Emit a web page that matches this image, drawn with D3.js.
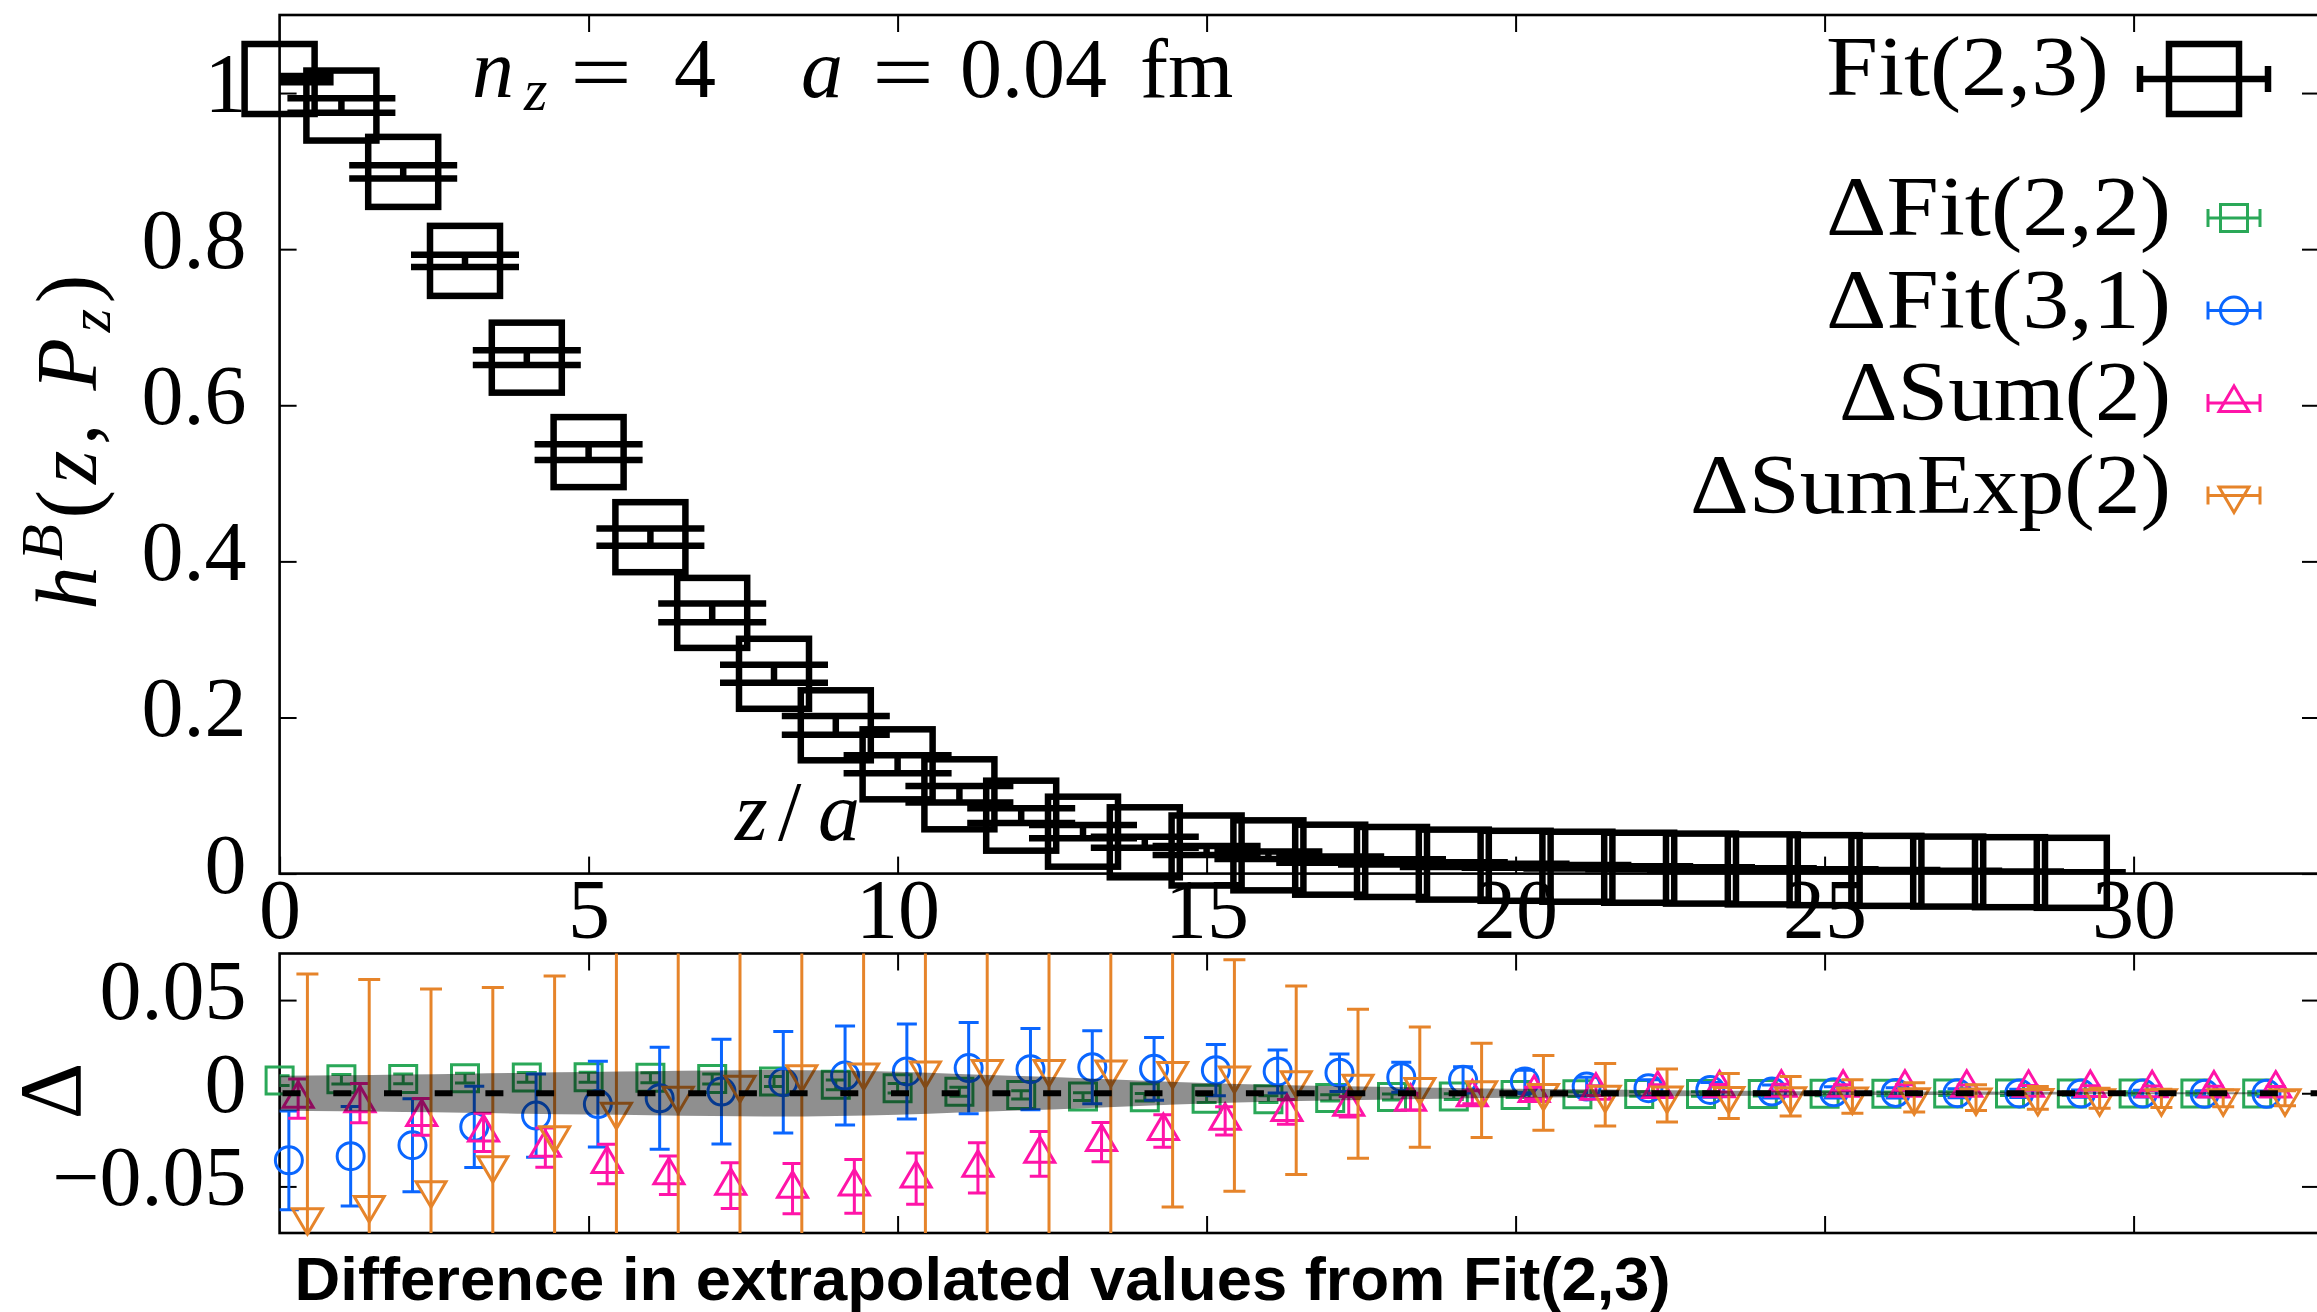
<!DOCTYPE html>
<html>
<head>
<meta charset="utf-8">
<script src="https://cdn.jsdelivr.net/npm/d3@7"></script>
<style>
  html, body { margin: 0; padding: 0; background: #fff; }
  svg { display: block; }
</style>
</head>
<body>
<svg id="chart" width="2317" height="1312"></svg>
<script>
// ---- data -------------------------------------------------------------
// separation z/a
const zSep = [0, 1, 2, 3, 4, 5, 6, 7, 8, 9, 10, 11, 12, 13, 14, 15, 16,
              17, 18, 19, 20, 21, 22, 23, 24, 25, 26, 27, 28, 29, 30, 31, 32];

// h^B(z, P_z) from Fit(2,3), z = 0..29
const hB = [1.018, 0.984, 0.899, 0.785, 0.661, 0.540, 0.431, 0.334, 0.256, 0.190,
            0.140, 0.1016, 0.0742, 0.0537, 0.0401, 0.0296, 0.0234, 0.0178, 0.0149, 0.0115,
            0.0100, 0.0088, 0.0075, 0.0064, 0.0054, 0.0044, 0.0035, 0.0026, 0.0018, 0.0010];
const hBErr = [0.004, 0.0092, 0.0086, 0.0077, 0.0095, 0.0100, 0.0110, 0.0120, 0.0115, 0.0120,
               0.0115, 0.0105, 0.0095, 0.0085, 0.0070, 0.0058, 0.0048, 0.0040, 0.0034, 0.0029,
               0.0025, 0.0022, 0.0019, 0.0016, 0.0014, 0.0012, 0.0011, 0.0010, 0.0009, 0.0008];

// differences relative to Fit(2,3), z = 0..32
const dFit22 = [0.0068, 0.0075, 0.0077, 0.0081, 0.0085, 0.0086, 0.0083, 0.0076, 0.0063, 0.0045,
                0.0027, 0.0008, -0.0009, -0.0018, -0.0022, -0.0030, -0.0032, -0.0025, -0.0020, -0.0018,
                -0.0009, -0.0005, -0.0004, -0.0004, -0.0004, -0.0003, -0.0003, -0.0002, -0.0002, -0.0002,
                -0.0001, -0.0001, -0.0001];
const dFit22Err = [0.0026, 0.0026, 0.0026, 0.0026, 0.0026, 0.0027, 0.0027, 0.0027, 0.0027, 0.0026,
                   0.0025, 0.0024, 0.0022, 0.0021, 0.0020, 0.0019, 0.0018, 0.0017, 0.0016, 0.0015,
                   0.0014, 0.0013, 0.0012, 0.0012, 0.0011, 0.0011, 0.0010, 0.0010, 0.0010, 0.0009,
                   0.0009, 0.0009, 0.0009];

const dFit31 = [-0.0360, -0.0338, -0.0279, -0.0180, -0.0120, -0.0058, -0.0027, 0.0009, 0.0059, 0.0095,
                0.0117, 0.0135, 0.0129, 0.0140, 0.0131, 0.0124, 0.0117, 0.0110, 0.0086, 0.0072,
                0.0063, 0.0036, 0.0027, 0.0018, 0.0009, 0.0005, 0.0002, 0.0000, -0.0001, -0.0002,
                -0.0002, -0.0003, -0.0003];
const dFit31Err = [0.0265, 0.0267, 0.0250, 0.0218, 0.0223, 0.0230, 0.0274, 0.0281, 0.0272, 0.0266,
                   0.0255, 0.0245, 0.0218, 0.0196, 0.0168, 0.0138, 0.0115, 0.0100, 0.0080, 0.0070,
                   0.0060, 0.0050, 0.0045, 0.0040, 0.0035, 0.0030, 0.0027, 0.0024, 0.0022, 0.0020,
                   0.0018, 0.0016, 0.0015];

const dSum2 = [-0.0029, -0.0053, -0.0127, -0.0210, -0.0292, -0.0380, -0.0440, -0.0496, -0.0512, -0.0500,
               -0.0458, -0.0400, -0.0325, -0.0262, -0.0203, -0.0148, -0.0100, -0.0072, -0.0045, -0.0022,
               0.0002, 0.0014, 0.0023, 0.0027, 0.0030, 0.0030, 0.0030, 0.0030, 0.0029, 0.0028,
               0.0027, 0.0026, 0.0025];
const dSum2Err = [0.0105, 0.0105, 0.0099, 0.0103, 0.0105, 0.0106, 0.0103, 0.0123, 0.0135, 0.0144,
                  0.0138, 0.0135, 0.0120, 0.0105, 0.0087, 0.0076, 0.0067, 0.0055, 0.0045, 0.0035,
                  0.0030, 0.0026, 0.0023, 0.0020, 0.0018, 0.0016, 0.0015, 0.0014, 0.0013, 0.0012,
                  0.0012, 0.0011, 0.0011];

const dSumExp2 = [-0.0665, -0.0600, -0.0520, -0.0387, -0.0225, -0.0099, -0.0014, 0.0045, 0.0102, 0.0112,
                  0.0122, 0.0130, 0.0130, 0.0127, 0.0120, 0.0095, 0.0070, 0.0051, 0.0033, 0.0016,
                  0.0002, -0.0008, -0.0012, -0.0015, -0.0016, -0.0018, -0.0022, -0.0023, -0.0025, -0.0027,
                  -0.0027, -0.0027, -0.0027];
const dSumExp2Err = [0.1305, 0.1210, 0.1080, 0.0955, 0.0854, 0.0900, 0.0950, 0.1000, 0.1000, 0.1000,
                     0.1000, 0.1000, 0.0980, 0.0950, 0.0730, 0.0621, 0.0506, 0.0400, 0.0323, 0.0253,
                     0.0200, 0.0168, 0.0142, 0.0121, 0.0106, 0.0090, 0.0079, 0.0069, 0.0061, 0.0054,
                     0.0049, 0.0045, 0.0040];

// half-width of the Fit(2,3) uncertainty band around zero
const fitBand = [0.0094, 0.0097, 0.0101, 0.0105, 0.0110, 0.0114, 0.0118, 0.0122, 0.0125, 0.0122,
                 0.0115, 0.0103, 0.0092, 0.0080, 0.0067, 0.0055, 0.0046, 0.0039, 0.0033, 0.0028,
                 0.0024, 0.0021, 0.0018, 0.0015, 0.0013, 0.0011, 0.0010, 0.0009, 0.0008, 0.0007,
                 0.0006, 0.0005, 0.0005];

// horizontal offsets used to separate the four difference series
const seriesShift = [0, 0.15, 0.30, 0.45];

// ticks
const xTicks = [0, 5, 10, 15, 20, 25, 30];
const xTicksInner = [5, 10, 15, 20, 25, 30];
const hTicks = [0, 0.2, 0.4, 0.6, 0.8, 1.0];
const hTickLabels = ["0", "0.2", "0.4", "0.6", "0.8", "1"];
const dTicks = [-0.05, 0, 0.05];
const dTickLabels = ["\u22120.05", "0", "0.05"];

// ---- layout -------------------------------------------------------------
const svg = d3.select("#chart");
const serif = "'Liberation Serif', 'Times New Roman', serif";
const sans = "'Liberation Sans', Arial, sans-serif";

const xL = 279.6, xR = 2319;
const topY0 = 15, topY1 = 873.6;
const botY0 = 953.5, botY1 = 1233;

const x = d3.scaleLinear().domain([0, 33]).range([xL, xR]);
const yTop = d3.scaleLinear().domain([0, 1.1]).range([topY1, topY0]);
const yBot = d3.scaleLinear().domain([-0.075, 0.075]).range([botY1, botY0]);

svg.append("rect").attr("width", 2317).attr("height", 1312).attr("fill", "#fff");

const defs = svg.append("defs");
defs.append("clipPath").attr("id", "clipTop").append("rect")
  .attr("x", xL).attr("y", topY0).attr("width", xR - xL).attr("height", topY1 - topY0);
defs.append("clipPath").attr("id", "clipBot").append("rect")
  .attr("x", xL).attr("y", botY0).attr("width", xR - xL).attr("height", botY1 - botY0);

function styleAxis(g) {
  g.select(".domain").remove();
  g.selectAll(".tick line").attr("stroke", "#000").attr("stroke-width", 2);
  g.selectAll(".tick text").attr("font-family", serif).attr("font-size", 84).attr("fill", "#000");
}

// ---- top panel axes ----
svg.append("g").attr("transform", `translate(0,${topY1})`)
  .call(d3.axisBottom(x).tickValues(xTicks).tickSize(-17).tickFormat(d3.format("d")))
  .call(styleAxis)
  .call(g => g.selectAll(".tick text").attr("dy", 0).attr("y", 64.5));
svg.append("g").attr("transform", `translate(0,${topY0})`)
  .call(d3.axisTop(x).tickValues(xTicksInner).tickSize(-17).tickFormat(""))
  .call(styleAxis);
svg.append("g").attr("transform", `translate(${xL},0)`)
  .call(d3.axisLeft(yTop).tickValues(hTicks).tickSize(-17).tickPadding(33)
        .tickFormat((d, i) => hTickLabels[i]))
  .call(styleAxis)
  .call(g => g.selectAll(".tick text").attr("dy", 0).attr("y", 18.5));
svg.append("g").attr("transform", `translate(${xR},0)`)
  .call(d3.axisRight(yTop).tickValues(hTicks).tickSize(-17).tickFormat(""))
  .call(styleAxis);
svg.append("rect").attr("x", xL).attr("y", topY0).attr("width", xR - xL).attr("height", topY1 - topY0)
  .attr("fill", "none").attr("stroke", "#000").attr("stroke-width", 2.6);

// ---- bottom panel axes ----
svg.append("g").attr("transform", `translate(0,${botY1})`)
  .call(d3.axisBottom(x).tickValues(xTicksInner).tickSize(-17).tickFormat(""))
  .call(styleAxis);
svg.append("g").attr("transform", `translate(0,${botY0})`)
  .call(d3.axisTop(x).tickValues(xTicksInner).tickSize(-17).tickFormat(""))
  .call(styleAxis);
svg.append("g").attr("transform", `translate(${xL},0)`)
  .call(d3.axisLeft(yBot).tickValues(dTicks).tickSize(-17).tickPadding(33)
        .tickFormat((d, i) => dTickLabels[i]))
  .call(styleAxis)
  .call(g => g.selectAll(".tick text").attr("dy", 0).attr("y", 18.5));
svg.append("g").attr("transform", `translate(${xR},0)`)
  .call(d3.axisRight(yBot).tickValues(dTicks).tickSize(-17).tickFormat(""))
  .call(styleAxis);
svg.append("rect").attr("x", xL).attr("y", botY0).attr("width", xR - xL).attr("height", botY1 - botY0)
  .attr("fill", "none").attr("stroke", "#000").attr("stroke-width", 2.6);

// ---- top panel data: Fit(2,3) ----
const topPts = hB.map((v, i) => ({ z: zSep[i], v, e: hBErr[i] }));
const capTop = 54;
svg.append("g").attr("clip-path", "url(#clipTop)")
  .attr("stroke", "#000").attr("stroke-width", 6.5).attr("fill", "none")
  .selectAll("path").data(topPts).join("path")
  .attr("d", d => {
    const cx = x(d.z), ya = yTop(d.v - d.e), yb = yTop(d.v + d.e);
    return `M${cx},${ya}V${yb}M${cx - capTop},${ya}H${cx + capTop}M${cx - capTop},${yb}H${cx + capTop}`;
  });
svg.append("g").attr("stroke", "#000").attr("stroke-width", 6.5).attr("fill", "none")
  .selectAll("rect").data(topPts).join("rect")
  .attr("x", d => x(d.z) - 35).attr("y", d => yTop(d.v) - 35)
  .attr("width", 70).attr("height", 70);

// ---- bottom panel data ----
const markerShapes = {
  square: "M-13.5,-13.5H13.5V13.5H-13.5Z",
  circle: "M13.5,0A13.5,13.5 0 1,1 -13.5,0A13.5,13.5 0 1,1 13.5,0Z",
  up: "M0,-17L15,8.5L-15,8.5Z",
  down: "M0,17L15,-8.5L-15,-8.5Z"
};
const series = [
  { label: "\u0394Fit(2,2)", vals: dFit22, errs: dFit22Err, color: "#2aa858", shape: "square", cap: 10 },
  { label: "\u0394Fit(3,1)", vals: dFit31, errs: dFit31Err, color: "#0a66ff", shape: "circle", cap: 10 },
  { label: "\u0394Sum(2)", vals: dSum2, errs: dSum2Err, color: "#ff14a8", shape: "up", cap: 10 },
  { label: "\u0394SumExp(2)", vals: dSumExp2, errs: dSumExp2Err, color: "#e6842a", shape: "down", cap: 11 }
];

series.forEach((s, k) => {
  const pts = s.vals.map((v, i) => ({ z: zSep[i] + seriesShift[k], v, e: s.errs[i] }));
  const g = svg.append("g");
  g.append("g").attr("clip-path", "url(#clipBot)")
    .attr("stroke", s.color).attr("stroke-width", 3).attr("fill", "none")
    .selectAll("path").data(pts).join("path")
    .attr("d", d => {
      const cx = x(d.z), ya = yBot(d.v - d.e), yb = yBot(d.v + d.e);
      return `M${cx},${ya}V${yb}M${cx - s.cap},${ya}H${cx + s.cap}M${cx - s.cap},${yb}H${cx + s.cap}`;
    });
  g.append("g").attr("stroke", s.color).attr("stroke-width", 3).attr("fill", "none")
    .selectAll("path").data(pts).join("path")
    .attr("transform", d => `translate(${x(d.z)},${yBot(d.v)})`)
    .attr("d", markerShapes[s.shape]);
});

// Fit(2,3) uncertainty band and the zero line
const bandPts = fitBand.map((b, i) => ({ z: zSep[i], b }));
svg.append("path").datum(bandPts)
  .attr("clip-path", "url(#clipBot)")
  .attr("fill", "#000").attr("fill-opacity", 0.44)
  .attr("d", d3.area().x(d => x(d.z)).y0(d => yBot(-d.b)).y1(d => yBot(d.b)).curve(d3.curveMonotoneX));
svg.append("path").datum([0, 33])
  .attr("stroke", "#000").attr("stroke-width", 6).attr("fill", "none")
  .attr("stroke-dasharray", "18 32.7").attr("stroke-dashoffset", -3)
  .attr("d", d3.line().x(d => x(d)).y(() => yBot(0)));

// ---- text ----
// annotation: n_z = 4   a = 0.04 fm
const note = svg.append("text").attr("font-family", serif).attr("font-size", 84).attr("y", 97).attr("fill", "#000");
note.append("tspan").attr("x", 472).attr("font-style", "italic").text("n");
note.append("tspan").attr("x", 524).attr("dy", 13).attr("font-size", 60).attr("font-style", "italic").text("z");
note.append("tspan").attr("x", 674).attr("dy", -13).text("4");
note.append("tspan").attr("x", 801).attr("font-style", "italic").text("a");
note.append("tspan").attr("x", 960).text("0.04");
note.append("tspan").attr("x", 1140).text("fm");
[570, 872].forEach(ex => {
  svg.append("text").attr("font-family", serif).attr("font-size", 84).attr("fill", "#000")
    .attr("x", ex).attr("y", 101).attr("textLength", 62).attr("lengthAdjust", "spacingAndGlyphs")
    .text("=");
});

// x-axis title inside the top panel
const xt = svg.append("text").attr("font-family", serif).attr("font-size", 84).attr("y", 840).attr("fill", "#000");
xt.append("tspan").attr("x", 735).attr("font-style", "italic").text("z");
xt.append("tspan").attr("x", 778).text("/");
xt.append("tspan").attr("x", 818).attr("font-style", "italic").text("a");

// y-axis title of the top panel
const yt = svg.append("text").attr("font-family", serif).attr("font-size", 86).attr("fill", "#000")
  .attr("transform", "translate(96,442) rotate(-90)").attr("text-anchor", "middle")
  .attr("textLength", 335).attr("lengthAdjust", "spacing");
yt.append("tspan").attr("font-style", "italic").text("h");
yt.append("tspan").attr("font-style", "italic").attr("font-size", 60).attr("dy", -34).text("B");
yt.append("tspan").attr("dy", 34).text("(");
yt.append("tspan").attr("font-style", "italic").text("z");
yt.append("tspan").text(", ");
yt.append("tspan").attr("font-style", "italic").text("P");
yt.append("tspan").attr("font-style", "italic").attr("font-size", 60).attr("dy", 14).text("z");
yt.append("tspan").attr("dy", -14).text(")");

// y-axis title of the bottom panel
svg.append("text").attr("font-family", serif).attr("font-size", 88).attr("fill", "#000")
  .attr("transform", "translate(80,1091) rotate(-90)").attr("text-anchor", "middle")
  .text("\u0394");

// bottom caption
svg.append("text").attr("font-family", sans).attr("font-weight", "bold").attr("font-size", 62)
  .attr("x", 294.6).attr("y", 1300).attr("fill", "#000")
  .attr("textLength", 1376).attr("lengthAdjust", "spacingAndGlyphs")
  .text("Difference in extrapolated values from Fit(2,3)");

// ---- legend ----
const leg = svg.append("g");
leg.append("text").attr("font-family", serif).attr("font-size", 84).attr("fill", "#000")
  .attr("x", 2109).attr("y", 95).attr("text-anchor", "end")
  .attr("textLength", 283).attr("lengthAdjust", "spacingAndGlyphs").text("Fit(2,3)");
leg.append("path").attr("stroke", "#000").attr("stroke-width", 6.5).attr("fill", "none")
  .attr("d", "M2140,79H2268M2140,66V92M2268,66V92");
leg.append("rect").attr("x", 2169).attr("y", 44).attr("width", 70).attr("height", 70)
  .attr("stroke", "#000").attr("stroke-width", 6.5).attr("fill", "none");

const legWidths = [345, 345, 332, 481];
series.forEach((s, k) => {
  const base = 235 + k * 92.5, cy = base - 17;
  leg.append("text").attr("font-family", serif).attr("font-size", 84).attr("fill", "#000")
    .attr("x", 2171).attr("y", base).attr("text-anchor", "end")
    .attr("textLength", legWidths[k]).attr("lengthAdjust", "spacingAndGlyphs").text(s.label);
  leg.append("path").attr("stroke", s.color).attr("stroke-width", 3).attr("fill", "none")
    .attr("d", `M2208,${cy}H2260M2208,${cy - 9}V${cy + 9}M2260,${cy - 9}V${cy + 9}`);
  leg.append("path").attr("stroke", s.color).attr("stroke-width", 3).attr("fill", "none")
    .attr("transform", `translate(2234,${cy})`).attr("d", markerShapes[s.shape]);
});
</script>
</body>
</html>
